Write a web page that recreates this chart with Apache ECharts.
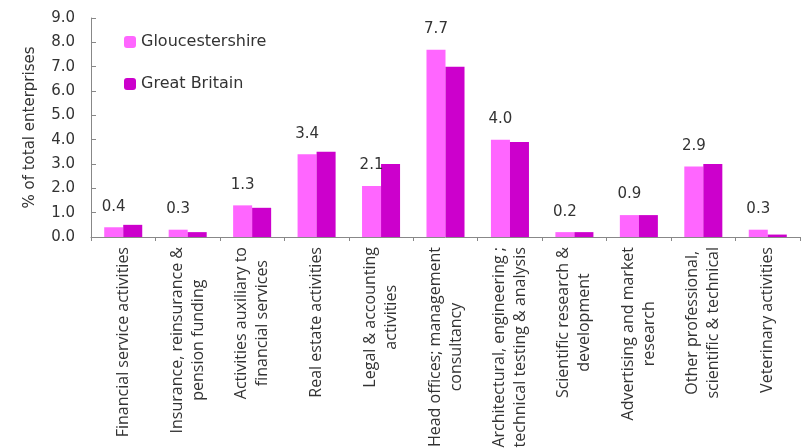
<!DOCTYPE html>
<html>
<head>
<meta charset="utf-8">
<script src="https://cdn.jsdelivr.net/npm/echarts@6/dist/echarts.min.js"></script>
<style>html,body{margin:0;padding:0;background:#fff;}#c{width:803px;height:448px;}</style>
</head>
<body>
<div id="c"></div>
<script>
const categories = [
  "Financial service activities",
  "Insurance, reinsurance &\npension funding",
  "Activities auxiliary to\nfinancial services",
  "Real estate activities",
  "Legal & accounting\nactivities",
  "Head offices; management\nconsultancy",
  "Architectural, engineering ;\ntechnical testing & analysis",
  "Scientific research &\ndevelopment",
  "Advertising and market\nresearch",
  "Other professional,\nscientific & technical",
  "Veterinary activities"
];
const gloucestershire = [0.4, 0.3, 1.3, 3.4, 2.1, 7.7, 4.0, 0.2, 0.9, 2.9, 0.3];
const greatBritain = [0.5, 0.2, 1.2, 3.5, 3.0, 7.0, 3.9, 0.2, 0.9, 3.0, 0.1];
const yTicks = [0, 9, 1];

const chart = echarts.init(document.getElementById('c'), null, {renderer: 'canvas'});
chart.setOption({
  animation: false,
  backgroundColor: '#fff',
  textStyle: {fontFamily: 'DejaVu Sans'},
  grid: {left: 91, right: 3, top: 18, bottom: 211, containLabel: false, outerBoundsMode: 'none'},
  legend: {
    orient: 'vertical', left: 124, top: 34, padding: 0,
    itemWidth: 12, itemHeight: 12, itemGap: 26,
    textStyle: {fontSize: 16, color: '#333', fontFamily: 'DejaVu Sans'},
    data: ['Gloucestershire', 'Great Britain']
  },
  xAxis: {
    type: 'category', data: categories,
    axisLine: {lineStyle: {color: '#888'}},
    axisTick: {show: true, alignWithLabel: false, length: 4, lineStyle: {color: '#888'}},
    axisLabel: {
      rotate: 90, interval: 0, margin: 10, color: '#333',
      fontFamily: 'Open Sans', fontSize: 16,
      formatter: v => v.split('\n').map(s => '{a|' + s + '}').join('\n'),
      rich: {a: {align: 'center', fontFamily: 'Open Sans', fontSize: 16, lineHeight: 21, color: '#333'}}
    }
  },
  yAxis: {
    type: 'value', min: yTicks[0], max: yTicks[1], interval: yTicks[2],
    name: '% of total enterprises', nameLocation: 'middle', nameGap: 53,
    nameTextStyle: {fontSize: 15, color: '#333', fontFamily: 'DejaVu Sans'},
    splitLine: {show: false},
    axisLine: {show: true, lineStyle: {color: '#888'}},
    axisTick: {show: true, inside: true, length: 5, lineStyle: {color: '#888'}},
    axisLabel: {margin: 16, fontSize: 15, color: '#333', formatter: v => v.toFixed(1)}
  },
  series: [
    {
      name: 'Gloucestershire', type: 'bar', data: gloucestershire,
      itemStyle: {color: '#FF66FF'}, barGap: '0%', barCategoryGap: '41%',
      label: {show: true, position: 'top', distance: 13, fontSize: 15, color: '#333', formatter: p => p.value.toFixed(1)}
    },
    {
      name: 'Great Britain', type: 'bar', data: greatBritain,
      itemStyle: {color: '#CC00CC'}, barGap: '0%', barCategoryGap: '41%'
    }
  ]
});
</script>
</body>
</html>
